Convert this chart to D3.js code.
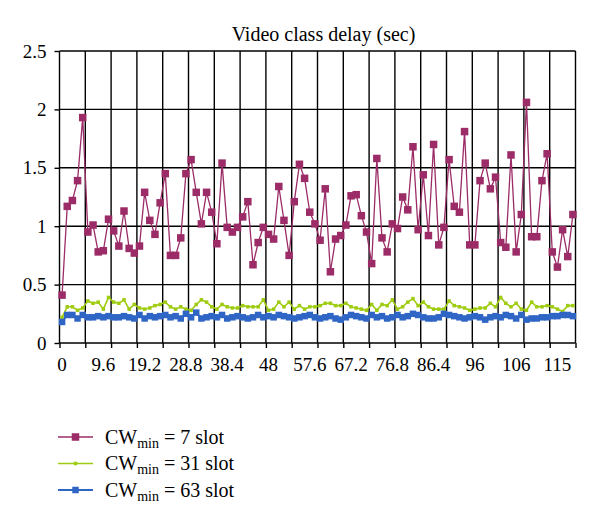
<!DOCTYPE html>
<html>
<head>
<meta charset="utf-8">
<style>
    body { margin: 0; background: #fff; }
    svg { display: block; font-family: 'Liberation Serif', 'DejaVu Serif', serif; }
    .grid line { stroke: #000; stroke-width: 1.4; }
    .axis .domain { display: none; }
    .axis .tick line { stroke: #000; stroke-width: 1.4; }
    .axis .tick text { font-size: 19px; fill: #000; font-family: 'Liberation Serif', serif; }
    .title { font-size: 20px; }
    .legend text { font-size: 20px; }
</style>
</head>
<body>
<svg width="600" height="524"></svg>

<script src="https://d3js.org/d3.v7.min.js"></script>
<script>
    // delay (sec) per sample
    let cw7 = [0.41, 1.17, 1.22, 1.39, 1.93, 0.95, 1.01, 0.78, 0.79, 1.06,
        0.96, 0.83, 1.13, 0.81, 0.77, 0.83, 1.29, 1.05, 0.93, 1.20,
        1.45, 0.75, 0.75, 0.90, 1.45, 1.57, 1.29, 1.02, 1.29, 1.12,
        0.85, 1.54, 0.99, 0.95, 0.99, 1.08, 1.21, 0.67, 0.86, 0.99,
        0.93, 0.89, 1.34, 1.05, 0.75, 1.21, 1.53, 1.41, 1.12, 1.02,
        0.88, 1.32, 0.61, 0.89, 0.92, 1.01, 1.26, 1.27, 1.09, 0.95,
        0.68, 1.58, 0.90, 0.78, 1.02, 0.98, 1.25, 1.14, 1.68, 0.97,
        1.44, 0.92, 1.70, 0.84, 0.99, 1.57, 1.17, 1.12, 1.81, 0.84,
        0.84, 1.39, 1.54, 1.32, 1.42, 0.86, 0.82, 1.61, 0.78, 1.10,
        2.06, 0.91, 0.91, 1.39, 1.62, 0.78, 0.65, 0.97, 0.74, 1.10]

    let cw31 = [0.22, 0.31, 0.31, 0.28, 0.30, 0.36, 0.34, 0.35, 0.29, 0.39,
        0.35, 0.34, 0.37, 0.29, 0.33, 0.30, 0.29, 0.30, 0.32, 0.33,
        0.35, 0.31, 0.29, 0.31, 0.29, 0.28, 0.33, 0.37, 0.35, 0.31,
        0.29, 0.33, 0.31, 0.30, 0.30, 0.32, 0.31, 0.31, 0.31, 0.37,
        0.28, 0.29, 0.35, 0.31, 0.35, 0.29, 0.32, 0.29, 0.31, 0.31,
        0.32, 0.34, 0.34, 0.32, 0.32, 0.34, 0.31, 0.30, 0.29, 0.28,
        0.33, 0.28, 0.33, 0.32, 0.37, 0.29, 0.31, 0.35, 0.38, 0.32,
        0.35, 0.31, 0.29, 0.29, 0.29, 0.36, 0.32, 0.31, 0.30, 0.28,
        0.29, 0.30, 0.30, 0.34, 0.31, 0.39, 0.34, 0.31, 0.34, 0.29,
        0.28, 0.35, 0.31, 0.31, 0.32, 0.31, 0.29, 0.27, 0.32, 0.32]

    let cw63 = [0.18, 0.24, 0.24, 0.21, 0.24, 0.22, 0.22, 0.23, 0.22, 0.23,
        0.22, 0.22, 0.23, 0.22, 0.21, 0.24, 0.21, 0.23, 0.22, 0.23,
        0.24, 0.22, 0.23, 0.21, 0.25, 0.22, 0.26, 0.21, 0.22, 0.23,
        0.22, 0.24, 0.21, 0.22, 0.23, 0.22, 0.21, 0.22, 0.24, 0.22,
        0.23, 0.22, 0.24, 0.23, 0.22, 0.21, 0.22, 0.23, 0.24, 0.22,
        0.21, 0.22, 0.23, 0.21, 0.20, 0.22, 0.24, 0.23, 0.22, 0.21,
        0.24, 0.22, 0.23, 0.21, 0.22, 0.24, 0.22, 0.23, 0.25, 0.24,
        0.22, 0.21, 0.21, 0.22, 0.25, 0.24, 0.23, 0.22, 0.21, 0.22,
        0.23, 0.22, 0.20, 0.22, 0.23, 0.22, 0.24, 0.23, 0.21, 0.24,
        0.20, 0.21, 0.21, 0.22, 0.22, 0.23, 0.23, 0.24, 0.24, 0.23]

    let xLabels = ["0", "9.6", "19.2", "28.8", "38.4", "48", "57.6", "67.2", "76.8", "86.4", "96", "106", "115"]
    let labelEvery = 8   // one label per 8 samples
    let gridEvery = 5    // one tick / gridline per 5 samples
    let yTicks = [0, 0.5, 1, 1.5, 2, 2.5]
    let cwNames = ["7", "31", "63"]

    let svg = d3.select("svg")
    let plotL = 59.5, plotR = 575.5, plotT = 51, plotB = 343

    let idx = d3.range(cw7.length)
    let x = d3.scaleBand().domain(idx).range([plotL, plotR])
    let xEdge = d3.scaleLinear().domain([0, cw7.length]).range([plotL, plotR])
    let y = d3.scaleLinear().domain([0, 2.5]).range([plotB, plotT])
    let cx = i => x(i) + x.bandwidth() / 2

    // gridlines
    let grid = svg.append("g").attr("class", "grid")
    grid.selectAll(".h")
        .data(yTicks)
        .join("line")
        .attr("class", "h")
        .attr("x1", plotL).attr("x2", plotR)
        .attr("y1", d => y(d)).attr("y2", d => y(d))
    grid.selectAll(".v")
        .data(d3.range(0, cw7.length + 1, gridEvery))
        .join("line")
        .attr("class", "v")
        .attr("x1", d => xEdge(d)).attr("x2", d => xEdge(d))
        .attr("y1", plotT).attr("y2", plotB)

    // axes
    svg.append("g")
        .attr("class", "axis")
        .attr("transform", `translate(${plotL},0)`)
        .call(d3.axisLeft(y).tickValues(yTicks).tickSize(5).tickPadding(8).tickFormat(d3.format("")))

    svg.append("g")
        .attr("class", "axis")
        .attr("transform", `translate(0,${plotB})`)
        .call(d3.axisBottom(xEdge).tickValues(d3.range(0, cw7.length + 1, gridEvery)).tickSize(5).tickFormat(""))

    svg.append("g")
        .attr("class", "axis")
        .attr("transform", `translate(0,${plotB})`)
        .call(d3.axisBottom(x)
            .tickValues(idx.filter(i => i % labelEvery == 0))
            .tickSize(0).tickPadding(15)
            .tickFormat(i => xLabels[i / labelEvery]))

    // series
    let series = [
        { name: cwNames[0], values: cw7, color: "#9b2c67", width: 1.3, size: 7.5 },
        { name: cwNames[1], values: cw31, color: "#9fcc10", width: 1.6, size: 3.5 },
        { name: cwNames[2], values: cw63, color: "#2f66c6", width: 2, size: 6.5 }
    ]

    let line = d3.line().x((d, i) => cx(i)).y(d => y(d))

    series.forEach(s => {
        let g = svg.append("g")
        g.append("path")
            .attr("d", line(s.values))
            .attr("fill", "none")
            .attr("stroke", s.color)
            .attr("stroke-width", s.width)
        g.selectAll("rect")
            .data(s.values)
            .join("rect")
            .attr("x", (d, i) => cx(i) - s.size / 2)
            .attr("y", d => y(d) - s.size / 2)
            .attr("width", s.size)
            .attr("height", s.size)
            .attr("fill", s.color)
    })

    // title
    svg.append("text")
        .attr("class", "title")
        .attr("x", 323.5)
        .attr("y", 41)
        .attr("text-anchor", "middle")
        .text("Video class delay (sec)")

    // legend
    let legend = svg.append("g").attr("class", "legend")
        .selectAll("g")
        .data(series)
        .join("g")
        .attr("transform", (d, i) => `translate(58,${437 + i * 26.5})`)

    legend.append("line")
        .attr("x1", 0).attr("x2", 35)
        .attr("stroke", d => d.color)
        .attr("stroke-width", d => d.width)
    legend.append("rect")
        .attr("x", d => 17.5 - d.size / 2)
        .attr("y", d => -d.size / 2)
        .attr("width", d => d.size)
        .attr("height", d => d.size)
        .attr("fill", d => d.color)

    let lt = legend.append("text")
        .attr("x", 47)
        .attr("y", 6.5)
    lt.append("tspan").text("CW")
    lt.append("tspan").text("min").attr("font-size", "14px").attr("dy", 4)
    lt.append("tspan").text(d => " = " + d.name + " slot").attr("dy", -4)
</script>
</body>
</html>
